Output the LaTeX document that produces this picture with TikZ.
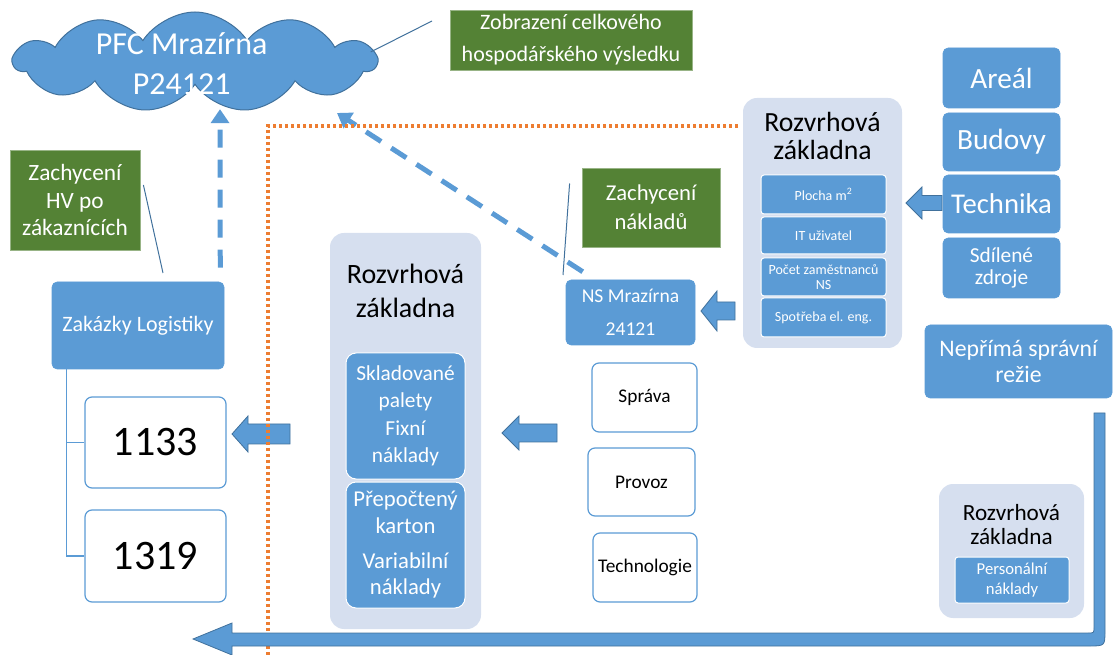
\documentclass[tikz,border=0pt]{standalone}
\usepackage{fontspec}
\setmainfont{Carlito}
\usetikzlibrary{shapes.symbols,arrows.meta}
\definecolor{mblue}{HTML}{5B9BD5}
\definecolor{mframe}{HTML}{41719C}
\definecolor{mgreen}{HTML}{548235}
\definecolor{mlight}{HTML}{D6DFEF}
\definecolor{morange}{HTML}{ED7D31}
\newdimen\px \px=0.75pt
\def\fsz#1#2{\fontsize{#1}{#2}\selectfont}
% left block arrow: tip x, tip y, tail x, head length, head half, shaft half
\newcommand\lblock[6]{\draw[blockarr] (#1,#2) -- (#1+#4,#2-#5) -- (#1+#4,#2-#6) -- (#3,#2-#6) -- (#3,#2+#6) -- (#1+#4,#2+#6) -- (#1+#4,#2+#5) -- cycle;}

\begin{document}
\begin{tikzpicture}[x=0.75pt,y=-0.75pt,
    bluebox/.style={rectangle, rounded corners=5\px, fill=mblue, draw=mblue, text=white, align=center, inner sep=0pt},
    subbox/.style={bluebox, rounded corners=10\px, draw=white, line width=1\px},
    tinybox/.style={bluebox, rounded corners=3\px, draw=white, line width=1\px, minimum width=125\px, font=\fsz{10.5}{11.5}},
    colbox/.style={bluebox, minimum width=117\px},
    whitebox/.style={rectangle, rounded corners=7\px, fill=white, draw=mblue, line width=1.2\px, align=center, inner sep=0pt},
    greenbox/.style={rectangle, fill=mgreen, draw=mgreen!60!white, line width=0.8\px, text=white, align=center, inner sep=0pt},
    holder/.style={rectangle, rounded corners=14\px, fill=mlight, inner sep=0pt},
    blockarr/.style={fill=mblue, draw=mframe, line width=0.6pt},
    callout/.style={draw=mframe, line width=0.75pt},
    dasharrow/.style={draw=mblue, line width=3.75pt, dash pattern=on 13.5pt off 9pt, -{Triangle[length=10.5pt,width=13.5pt]}},
    dotline/.style={draw=morange, line width=2.3pt, dash pattern=on 2.3pt off 2.2pt},
    treeline/.style={draw=mblue, line width=1.1pt}]
  \useasboundingbox (0,0) rectangle (1113,655);

  % left part
  \node[cloud, cloud puffs=11, cloud puff arc=115, cloud ignores aspect, fill=mblue, draw=mframe, line width=0.75pt,
    minimum width=362\px, minimum height=100\px, inner sep=0pt,
    label={[text=white, align=center, font=\fsz{24}{30}, xshift=-10pt, yshift=-1.5pt]center:{PFC Mrazírna\\P24121}}] (cloud) at (195,62) {};
  \node[greenbox, minimum width=242\px, minimum height=60\px, font=\fsz{16.5}{24}] (zobr) at (571,40) {Zobrazení celkového\\hospodářského výsledku};
  \node[greenbox, minimum width=130\px, minimum height=100\px, font=\fsz{17.5}{20.5}] (hv) at (75,200) {Zachycení\\HV po\\zákaznících};
  \node[bluebox, minimum width=172\px, minimum height=87\px, font=\fsz{16.5}{19}] (zakazky) at (138,325.5) {Zakázky Logistiky};
  \node[whitebox, minimum width=141\px, minimum height=91\px, font=\fsz{31.5}{36}] (c1133) at (155.5,442.5) {1133};
  \node[whitebox, minimum width=141\px, minimum height=92\px, font=\fsz{31.5}{36}] (c1319) at (155.5,556) {1319};
  \draw[treeline] ([xshift=15\px]zakazky.south west) |- (c1133.west);
  \draw[treeline] ([xshift=15\px]zakazky.south west) |- (c1319.west);

  % middle
  \node[holder, minimum width=151\px, minimum height=396\px] (midroz) at (405.5,431) {};
  \node[font=\fsz{21}{25}, align=center] (midtitle) at (405.5,291) {Rozvrhová\\základna};
  \node[subbox, minimum width=119\px, minimum height=126\px, font=\fsz{16}{20.6}] (fixbox) at (405.5,416) {Skladované\\palety\\Fixní\\náklady};
  \node[subbox, minimum width=119\px, minimum height=126\px, font=\fsz{17}{20}] (varbox) at (405.5,545) {Přepočtený\\karton\\[6pt]Variabilní\\náklady};
  \node[greenbox, minimum width=138\px, minimum height=79\px, font=\fsz{17}{22}] (zachnak) at (651,207.5) {Zachycení\\nákladů};
  \node[bluebox, minimum width=129\px, minimum height=65\px, font=\fsz{14.7}{25}] (ns) at (630.5,312.5) {NS Mrazírna\\24121};
  \node[whitebox, minimum width=105\px, minimum height=69\px, font=\fsz{14.5}{16}] (sprava) at (644.5,397.5) {Správa};
  \node[whitebox, minimum width=107\px, minimum height=68\px, font=\fsz{14.5}{16}] (provoz) at (641.5,482) {Provoz};
  \node[whitebox, minimum width=104\px, minimum height=69\px, font=\fsz{14.5}{16}] (techno) at (645,567.5) {Technologie};

  % right part
  \node[holder, minimum width=159\px, minimum height=250\px] (rightroz) at (822.5,223) {};
  \node[font=\fsz{20.8}{21}, align=center] (righttitle) at (822.5,136) {Rozvrhová\\základna};
  \node[tinybox, minimum height=39\px] (plocha) at (823.5,194.5) {Plocha m\textsuperscript{2}};
  \node[tinybox, minimum height=37\px] (ituz) at (823.5,235.5) {IT uživatel};
  \node[tinybox, minimum height=38\px] (pocet) at (823.5,277) {Počet zaměstnanců\\NS};
  \node[tinybox, minimum height=39\px] (spotreba) at (823.5,317.5) {Spotřeba el. eng.};
  \node[colbox, minimum height=60\px, font=\fsz{22}{22}] (areal) at (1001.5,78) {Areál};
  \node[colbox, minimum height=58\px, font=\fsz{22}{22}] (budovy) at (1001.5,142) {Budovy};
  \node[colbox, minimum height=58\px, font=\fsz{21.5}{22}] (technika) at (1001.5,204) {Technika};
  \node[colbox, minimum height=60\px, font=\fsz{16}{16.5}] (sdilene) at (1001.5,268) {Sdílené\\zdroje};
  \node[bluebox, minimum width=187\px, minimum height=73\px, font=\fsz{17.8}{19}] (neprima) at (1018.5,361.5) {Nepřímá správní\\režie};
  \node[holder, minimum width=145\px, minimum height=134\px] (smallroz) at (1011.5,551) {};
  \node[font=\fsz{17.4}{18}, align=center] (smalltitle) at (1011.5,525) {Rozvrhová\\základna};
  \node[tinybox, minimum width=114\px, minimum height=46\px, font=\fsz{12.5}{15}] (personal) at (1012,580) {Personální\\náklady};

  % callouts
  \coordinate (zobrtip) at (432,21);
  \coordinate (hvtip) at (163,273);
  \coordinate (naktip) at (563,275);
  \draw[callout] ([shift={(-8,-10)}]cloud.east) -- (zobrtip);
  \draw[callout] ([shift={(3,-15)}]hv.east) -- (hvtip);
  \draw[callout] ([shift={(-12,-24)}]zachnak.west) -- (naktip);

  % arrows
  \coordinate (diagtip) at (337,113);
  \draw[dasharrow] ([shift={(-4,-14)}]zakazky.north east) -- ([shift={(25,24)}]cloud.south);
  \draw[dasharrow] ([shift={(17,-8)}]ns.north west) -- (diagtip);
  \lblock{232}{434}{290}{16}{18}{10}
  \draw[dotline] (738,126) -- (268,126) -- (268,655);
  \lblock{502}{433}{557}{17}{17}{9}
  \lblock{701}{311}{735}{16}{20}{9}
  \lblock{906}{203}{942}{16}{16}{7.5}
  \draw[blockarr] (1094,413) -- (1105,413) -- (1105,630) .. controls (1105,646) .. (1089,646) -- (232,646) -- (232,655)
    -- (193,639) -- (232,623) -- (232,633) -- (1088,633) .. controls (1094,633) .. (1094,627) -- cycle;
\end{tikzpicture}
\end{document}
